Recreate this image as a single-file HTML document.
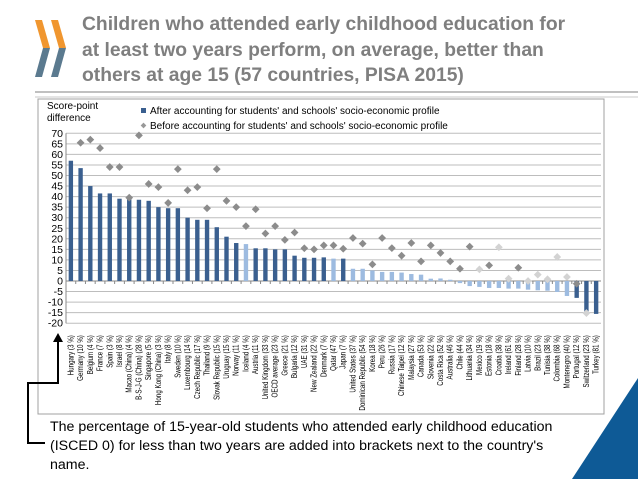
<!DOCTYPE html>
<html><head><meta charset="utf-8">
<style>
body{margin:0;width:638px;height:479px;background:#fff;overflow:hidden;font-family:"Liberation Sans",Arial,sans-serif;position:relative}
#title{position:absolute;left:82px;top:12px;font-size:19.3px;font-weight:bold;color:#7f7f7f;line-height:25.5px;white-space:nowrap}
#note{position:absolute;left:50px;top:418px;font-size:14.2px;color:#000;line-height:19px;white-space:nowrap}
svg{position:absolute;left:0;top:0}
</style></head><body>
<div id="title">Children who attended early childhood education for<br>at least two years perform, on average, better than<br>others at age 15 (57 countries, PISA 2015)</div>
<div id="note">The percentage of 15-year-old students who attended early childhood education<br>(ISCED 0) for less than two years are added into brackets next to the country's<br>name.</div>
<svg width="638" height="479" id="svg">
<g>
<polygon points="35,20 42,20 50,48 43,48" fill="#f0962f"/>
<polygon points="43,48 50,48 42,77 35,77" fill="#5b7a8f"/>
<polygon points="51,20 58,20 66,48 59,48" fill="#f0962f"/>
<polygon points="59,48 66,48 58,77 51,77" fill="#5b7a8f"/>
</g>
<line x1="35" y1="92" x2="638" y2="92" stroke="#808080" stroke-width="1"/>
<line x1="35" y1="97" x2="638" y2="97" stroke="#c8c8c8" stroke-width="1"/>
<rect x="38" y="99" width="566" height="315" fill="none" stroke="#a0a0a0"/>
<polygon points="572,479 638,378 638,479" fill="#0e5a96"/>
<g stroke="#000" stroke-width="2" fill="none">
<polyline points="45,443 28,443 28,383 58,383 58,340"/>
</g>
<polygon points="53,342 58,333 63,342" fill="#000"/>
<text x="47" y="109" font-size="10" fill="#000">Score-point</text>
<text x="47" y="121" font-size="10" fill="#000">difference</text>
<rect x="141" y="108" width="5" height="5" fill="#3a5f8f"/>
<text x="150" y="114" font-size="10" fill="#000">After accounting for students' and schools' socio-economic profile</text>
<rect x="141.5" y="123.5" width="4" height="4" fill="#999" transform="rotate(45 143.5 125.5)"/>
<text x="150" y="129" font-size="10" fill="#000">Before accounting for students' and schools' socio-economic profile</text>
<g id="plot"></g>
</svg>
<script>
const categories=["Hungary (3 %)","Germany (10 %)","Belgium (4 %)","France (7 %)","Spain (3 %)","Israel (8 %)","Macao (China) (4 %)","B-S-J-G (China) (28 %)","Singapore (5 %)","Hong Kong (China) (3 %)","Italy (8 %)","Sweden (10 %)","Luxembourg (14 %)","Czech Republic (17 %)","Thailand (9 %)","Slovak Republic (15 %)","Uruguay (15 %)","Norway (11 %)","Iceland (4 %)","Austria (11 %)","United Kingdom (33 %)","OECD average (23 %)","Greece (21 %)","Bulgaria (12 %)","UAE (31 %)","New Zealand (22 %)","Denmark (7 %)","Qatar (47 %)","Japan (7 %)","United States (37 %)","Dominican Republic (54 %)","Korea (18 %)","Peru (26 %)","Russia (17 %)","Chinese Taipei (12 %)","Malaysia (27 %)","Canada (53 %)","Slovenia (22 %)","Costa Rica (52 %)","Australia (46 %)","Chile (44 %)","Lithuania (34 %)","Mexico (19 %)","Estonia (18 %)","Croatia (38 %)","Ireland (61 %)","Finland (28 %)","Latvia (10 %)","Brazil (23 %)","Tunisia (38 %)","Colombia (68 %)","Montenegro (40 %)","Portugal (12 %)","Switzerland (23 %)","Turkey (81 %)"];
const afterValues=[57,53.5,45,41.5,41.5,39,39,38.5,38,35,34.5,34.5,30,29,29,25.5,21,18,17.5,15.5,15.5,15,15,12,11,11,11.2,10.6,10.6,5.8,5.8,5,4.3,4.3,4,3.3,3,1.1,1.2,0.6,-1,-2.4,-2.8,-3.3,-3.3,-3.6,-3.6,-4.1,-4.4,-4.6,-5.2,-7.1,-8,-15.2,-15.6];
const afterSignificant=[1,1,1,1,1,1,1,1,1,1,1,1,1,1,1,1,1,1,0,1,1,1,1,1,1,1,1,0,1,0,0,0,0,0,0,0,0,0,0,0,0,0,0,0,0,0,0,0,0,0,0,0,1,1,1];
const beforeValues=[null,65.5,67,63,54,54,39.5,69,46,44.5,37,53,43,44.5,34.5,53,38,35,26,34,22.5,26,19.5,23,15.5,15,16.9,16.9,15.3,20.4,17.7,7.9,20.4,15.6,12,18,9.3,16.9,13.3,9.3,5.8,16.3,5.5,7.4,16,1.1,6.3,0,3,0.8,11.4,1.9,-1.3,-15.2,null];
const beforeSignificant=[1,1,1,1,1,1,1,1,1,1,1,1,1,1,1,1,1,1,1,1,1,1,1,1,1,1,1,1,1,1,1,1,1,1,1,1,1,1,1,1,1,1,0,1,0,0,1,0,0,0,0,0,1,0,0];
const yTicks=[70,65,60,55,50,45,40,35,30,25,20,15,10,5,0,-5,-10,-15,-20];

const NS="http://www.w3.org/2000/svg";
const plot=document.getElementById('plot');
const X0=66,X1=601,Y0=281,PPU=2.11;
const band=(X1-X0)/categories.length;
function y(v){return Y0-v*PPU;}
function xc(i){return X0+band*(i+0.5);}
function mk(tag,attrs){const e=document.createElementNS(NS,tag);for(const k in attrs)e.setAttribute(k,attrs[k]);plot.appendChild(e);return e;}
yTicks.forEach(t=>{
  const g=mk('line',{x1:X0,x2:X1,y1:y(t),y2:y(t),stroke:t===0?'#888':'#bdbdbd','stroke-width':1});
  
  
  const l=mk('text',{x:X0-3,y:y(t)+3.5,'font-size':10.5,'text-anchor':'end',fill:'#000'});
  l.textContent=t;
  
  
});
const ax=mk('line',{x1:X0,x2:X0,y1:y(yTicks[0]),y2:y(yTicks[yTicks.length-1]),stroke:'#888'});


categories.forEach((c,i)=>{
  const v=afterValues[i];const bw=band*0.45;
  const r=mk('rect',{x:xc(i)-bw/2,y:Math.min(y(v),Y0),width:bw,height:Math.abs(y(v)-Y0),fill:afterSignificant[i]?'#3a5f8f':'#9dbbe0'});
  
  
  const tk=mk('line',{x1:X0+band*i,x2:X0+band*i,y1:Y0,y2:Y0+3,stroke:'#888'});
  
  
  const tx=mk('text',{x:0,y:0,'font-size':8,'text-anchor':'end',fill:'#000',transform:`translate(${xc(i)+2.5},${y(-20)+12}) rotate(-90) scale(0.78,1)`});
  tx.textContent=c;
  
  
});
categories.forEach((c,i)=>{
  const v=beforeValues[i];if(v===null)return;
  const s=5.5;
  const d=mk('rect',{x:xc(i)-s/2,y:y(v)-s/2,width:s,height:s,fill:beforeSignificant[i]?'#8c8c8c':'#d3d3d3',transform:`rotate(45 ${xc(i)} ${y(v)})`});
  
  
});
</script>
</body></html>
